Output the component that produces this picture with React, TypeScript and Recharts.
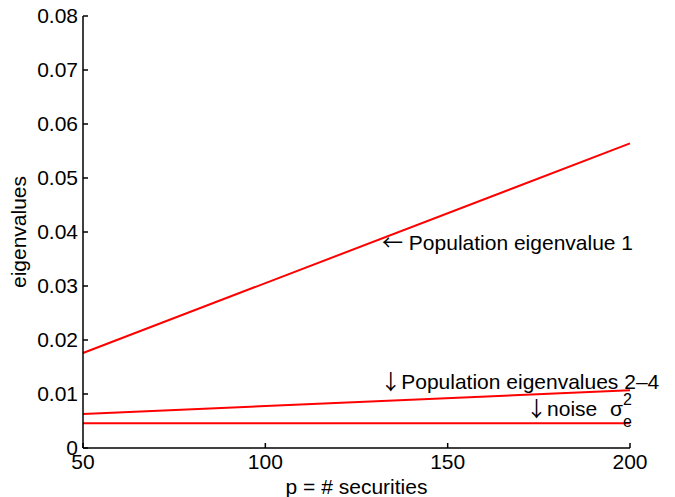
import { LineChart, Line, XAxis, YAxis, ReferenceDot } from "recharts";

// values
const pSecurities = [50, 200];
const eigenvalue1 = [0.0176, 0.0564];
const eigenvalues24 = [0.0063, 0.0107];
const noiseVar = [0.0046, 0.0046];

const xTicks = [50, 100, 150, 200];
const yTicks = [0, 0.01, 0.02, 0.03, 0.04, 0.05, 0.06, 0.07, 0.08];

const data = pSecurities.map((p, i) => ({
  p,
  ev1: eigenvalue1[i],
  ev24: eigenvalues24[i],
  noise: noiseVar[i],
}));

const FONT = "'Liberation Sans', Arial, Helvetica, sans-serif";
const ARROW_FONT = "'Noto Sans CJK JP', 'DejaVu Sans', sans-serif";
const FS = 21;
const RED = "#ff0000";

// arrow + text, starting at the point, vertically centred on it
function Note({ viewBox, arrow, text, gap }: any) {
  if (!viewBox) return null;
  const x = viewBox.x + viewBox.width / 2;
  const y = viewBox.y + viewBox.height / 2;
  return (
    <text x={x} y={y} dy="0.35em" fontSize={FS} fontFamily={FONT} fill="#000">
      <tspan fontFamily={ARROW_FONT}>{arrow}</tspan>
      <tspan>{(gap ? " " : "") + text}</tspan>
    </text>
  );
}

function NoiseNote({ viewBox }: any) {
  if (!viewBox) return null;
  const x = viewBox.x + viewBox.width / 2;
  const y = viewBox.y + viewBox.height / 2;
  return (
    <g fontFamily={FONT} fill="#000">
      <text x={x} y={y} dy="0.35em" fontSize={FS}>
        <tspan fontFamily={ARROW_FONT}>↓</tspan>
        <tspan>noise</tspan>
      </text>
      <text x={x + 84} y={y} dy="0.35em" fontSize={FS}>σ</text>
      <text x={x + 97} y={y - 4} fontSize={16}>2</text>
      <text x={x + 97} y={y + 18} fontSize={16}>e</text>
    </g>
  );
}

export default function App() {
  return (
    <div style={{ width: 675, height: 497 }}>
      <style>{`body{margin:0}`}</style>
      <LineChart
        width={675}
        height={497}
        data={data}
        margin={{ top: 16, right: 45, left: 0, bottom: 0 }}
      >
        <XAxis
          dataKey="p"
          type="number"
          domain={[50, 200]}
          ticks={xTicks}
          height={49}
          tickSize={-5}
          tickMargin={11}
          stroke="#000"
          strokeWidth={1.5}
          tick={{ fill: "#000", fontSize: FS, fontFamily: FONT }}
          label={{
            value: "p = # securities",
            position: "insideBottom",
            offset: 3,
            fill: "#000",
            fontSize: FS,
            fontFamily: FONT,
          }}
        />
        <YAxis
          type="number"
          domain={[0, 0.08]}
          ticks={yTicks}
          width={83}
          tickSize={-5}
          tickMargin={10}
          stroke="#000"
          strokeWidth={1.5}
          tickFormatter={(v: number) => (v === 0 ? "0" : v.toFixed(2))}
          tick={{ fill: "#000", fontSize: FS, fontFamily: FONT }}
          label={{
            value: "eigenvalues",
            angle: -90,
            position: "center",
            dx: -23,
            fill: "#000",
            fontSize: FS,
            fontFamily: FONT,
          }}
        />
        <Line dataKey="ev1" stroke={RED} strokeWidth={2} dot={false} isAnimationActive={false} />
        <Line dataKey="ev24" stroke={RED} strokeWidth={2} dot={false} isAnimationActive={false} />
        <Line dataKey="noise" stroke={RED} strokeWidth={2} dot={false} isAnimationActive={false} />
        <ReferenceDot
          x={132}
          y={0.038}
          r={0}
          ifOverflow="visible"
          label={<Note arrow="←" text="Population eigenvalue 1" gap />}
        />
        <ReferenceDot
          x={131.5}
          y={0.0122}
          r={0}
          ifOverflow="visible"
          label={<Note arrow="↓" text="Population eigenvalues 2–4" />}
        />
        <ReferenceDot
          x={171.5}
          y={0.0072}
          r={0}
          ifOverflow="visible"
          label={<NoiseNote />}
        />
      </LineChart>
    </div>
  );
}
